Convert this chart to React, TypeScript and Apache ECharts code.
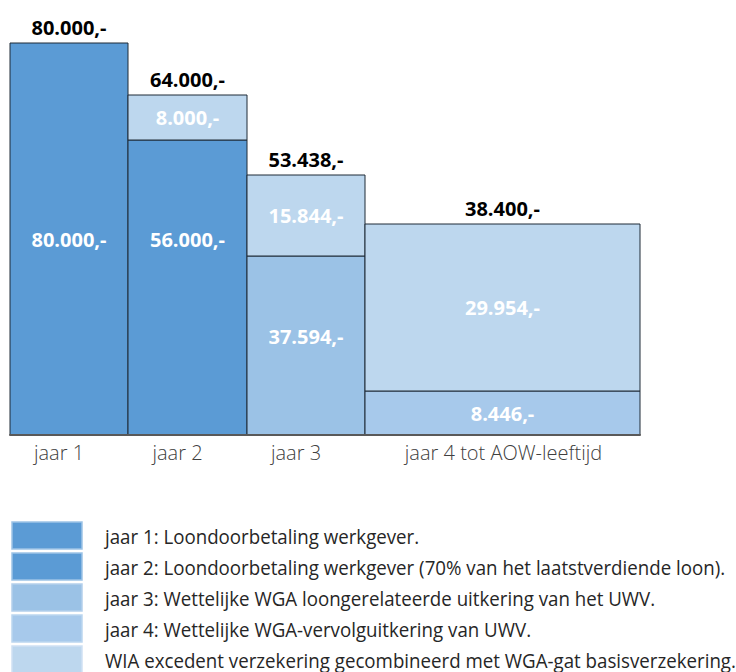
import React, { useEffect, useRef } from "react";
import * as echarts from "echarts";

// ---- data ----
const categories = ["jaar 1", "jaar 2", "jaar 3", "jaar 4 tot AOW-leeftijd"];
// relative duration width of each period (as drawn in the picture)
const periodWidths = [118, 119, 118, 275];
// drawn heights of the segments (the picture is not to scale)
const baseHeights = [392, 295, 179, 44];
const topHeights = [0, 45, 81, 167];
// the amounts written on the segments
const baseValues = [80000, 56000, 37594, 8446];
const topValues = [0, 8000, 15844, 29954];
const totalValues = [80000, 64000, 53438, 38400];
// level (in drawn height units) at which the base amount is written
const baseLabelLevels = [196, 196, 99, 22];

const legendNames = [
  "jaar 1: Loondoorbetaling werkgever.",
  "jaar 2: Loondoorbetaling werkgever (70% van het laatstverdiende loon).",
  "jaar 3: Wettelijke WGA loongerelateerde uitkering van het UWV.",
  "jaar 4: Wettelijke WGA-vervolguitkering van UWV.",
  "WIA excedent verzekering gecombineerd met WGA-gat basisverzekering.",
];

const fills = ["#5B9BD5", "#5B9BD5", "#9BC2E6", "#A7C9EB", "#BDD7EE"];
const legendBorders = ["#9DC3E6", "#9DC3E6", "#B4D0EC", "#BCD6F0", "#CFE1F3"];

const FONT = '"Open Sans", "DejaVu Sans", sans-serif';

function fmt(n: number): string {
  return String(n).replace(/\B(?=(\d{3})+(?!\d))/g, ".") + ",-";
}

export default function App() {
  const ref = useRef<HTMLDivElement>(null);

  useEffect(() => {
    if (!ref.current) return;
    const chart = echarts.init(ref.current, null, { renderer: "svg" });

    const starts: number[] = [];
    let acc = 0;
    periodWidths.forEach((w) => {
      starts.push(acc);
      acc += w;
    });
    const totalWidth = acc;
    const maxHeight = Math.max(...baseHeights.map((b, i) => b + topHeights[i]));

    const segRender = (fill: string) => (params: any, api: any) => {
      const x0 = api.value(0);
      const x1 = api.value(1);
      const y0 = api.value(2);
      const y1 = api.value(3);
      const val = api.value(4);
      const ly = api.value(5);
      const p0 = api.coord([x0, y0]);
      const p1 = api.coord([x1, y1]);
      const pl = api.coord([x0, ly]);
      return {
        type: "group",
        children: [
          {
            type: "rect",
            shape: { x: p0[0], y: p1[1], width: p1[0] - p0[0], height: p0[1] - p1[1] },
            style: { fill, stroke: "#1F2A36", lineWidth: 1 },
          },
          {
            type: "text",
            style: {
              text: fmt(val),
              x: (p0[0] + p1[0]) / 2,
              y: pl[1],
              align: "center",
              verticalAlign: "middle",
              fill: "#FFFFFF",
              font: `bold 20px ${FONT}`,
            },
          },
        ],
      };
    };

    const series: any[] = [];
    for (let i = 0; i < 4; i++) {
      series.push({
        type: "custom",
        name: legendNames[i],
        itemStyle: { color: fills[i] },
        renderItem: segRender(fills[i]),
        encode: { x: [0, 1], y: [2, 3] },
        data: [[starts[i], starts[i] + periodWidths[i], 0, baseHeights[i], baseValues[i], baseLabelLevels[i]]],
        clip: false,
        z: 2,
      });
    }
    const topData: number[][] = [];
    for (let i = 0; i < 4; i++) {
      if (topHeights[i] > 0) {
        topData.push([
          starts[i],
          starts[i] + periodWidths[i],
          baseHeights[i],
          baseHeights[i] + topHeights[i],
          topValues[i],
          baseHeights[i] + topHeights[i] / 2,
        ]);
      }
    }
    series.push({
      type: "custom",
      name: legendNames[4],
      itemStyle: { color: fills[4] },
      renderItem: segRender(fills[4]),
      encode: { x: [0, 1], y: [2, 3] },
      data: topData,
      clip: false,
      z: 2,
    });

    // totals above and category names below
    series.push({
      type: "custom",
      name: "labels",
      renderItem: (params: any, api: any) => {
        const idx = params.dataIndex;
        const x0 = api.value(0);
        const x1 = api.value(1);
        const top = api.value(2);
        const pTop = api.coord([(x0 + x1) / 2, top]);
        const pBot = api.coord([(x0 + x1) / 2, 0]);
        const shift = idx < 3 ? -10 : 1;
        return {
          type: "group",
          children: [
            {
              type: "text",
              style: {
                text: fmt(api.value(3)),
                x: pTop[0],
                y: pTop[1] - 16,
                align: "center",
                verticalAlign: "middle",
                fill: "#000000",
                font: `bold 20px ${FONT}`,
              },
            },
            {
              type: "text",
              style: {
                text: categories[idx],
                x: pBot[0] + shift,
                y: pBot[1] + 17,
                align: "center",
                verticalAlign: "middle",
                fill: "#404040",
                font: `300 20px ${FONT}`,
              },
            },
          ],
        };
      },
      encode: { x: [0, 1], y: 2 },
      data: categories.map((c, i) => [
        starts[i],
        starts[i] + periodWidths[i],
        baseHeights[i] + topHeights[i],
        totalValues[i],
      ]),
      clip: false,
      z: 3,
    });

    // legend drawn as graphic elements (swatch + text)
    const legendGraphics: any[] = [];
    legendNames.forEach((name, k) => {
      legendGraphics.push({
        type: "rect",
        x: 12,
        y: 522 + 31 * k,
        shape: { x: 0, y: 0, width: 70, height: 27 },
        style: { fill: fills[k], stroke: legendBorders[k], lineWidth: 1.5 },
      });
      legendGraphics.push({
        type: "text",
        x: 105,
        y: 536 + 31 * k,
        scaleX: 0.935,
        style: {
          text: name,
          x: 0,
          y: 0,
          verticalAlign: "middle",
          fill: "#262626",
          font: `20px ${FONT}`,
        },
      });
    });

    chart.setOption({
      animation: false,
      grid: { left: 10, right: 96, top: 43, bottom: 237 },
      xAxis: {
        type: "value",
        min: 0,
        max: totalWidth,
        z: 10,
        axisLine: { show: true, onZero: false, lineStyle: { color: "#595959", width: 2 } },
        axisTick: { show: false },
        axisLabel: { show: false },
        splitLine: { show: false },
      },
      yAxis: {
        type: "value",
        min: 0,
        max: maxHeight,
        show: false,
      },
      graphic: legendGraphics,
      series,
    });

    return () => chart.dispose();
  }, []);

  return (
    <div
      ref={ref}
      style={{ position: "fixed", left: 0, top: 0, width: 736, height: 672, background: "#fff" }}
    />
  );
}
